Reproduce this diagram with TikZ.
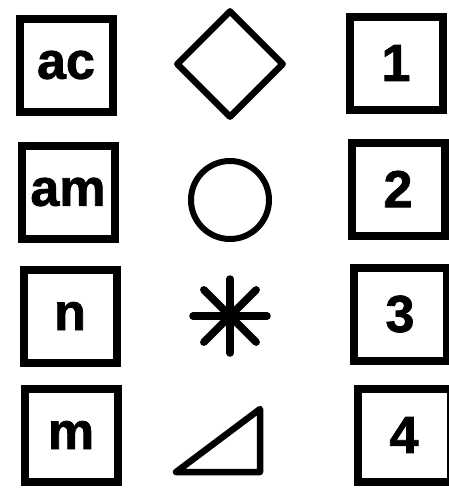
\documentclass[tikz,border=0pt]{standalone}
\usepackage{fontspec}
\setmainfont{Liberation Sans}
\newfontfamily\heavyfont{Liberation Sans Bold}[FakeBold=1.5]
\usetikzlibrary{shapes.geometric}
\begin{document}
\begin{tikzpicture}[
  x=1pt, y=-1pt,
  box/.style={draw, line width=8pt, minimum size=93pt, inner sep=0pt, font=\fontsize{52}{52}\heavyfont},
  sym/.style={draw, line width=6.5pt, line join=round, inner sep=0pt}
]
\useasboundingbox (0,0) rectangle (448,488);
% left column
\node[box] (ac) at (66,65) {ac};
\node[box] (am) at (68,192) {am};
\node[box] (n) at (70,316) {n};
\node[box] (m) at (71,435) {m};
% middle column
\node[sym, diamond, minimum size=108pt] (dia) at (230,64) {};
\node[sym, circle, minimum size=78pt, line width=6pt] (circ) at (230,200) {};
\coordinate (star) at (230,316);
\foreach \a in {0,45,...,315}
  \draw[line width=7.5pt, line cap=round] (star) -- ++(\a:37);
\coordinate (tria) at (176,472);
\coordinate (trib) at (260,409);
\coordinate (tric) at (260,472);
\draw[line width=6.5pt, line join=round] (tria) -- (trib) -- (tric) -- cycle;
% right column
\node[box] (one) at (396,63) {1};
\node[box] (two) at (398,189) {2};
\node[box] (three) at (400,314) {3};
\node[box] (four) at (404,435) {4};
\end{tikzpicture}
\end{document}
